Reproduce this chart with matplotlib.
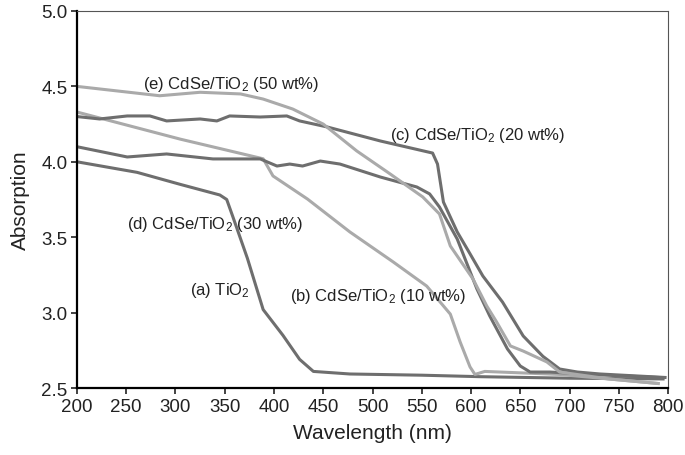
import matplotlib
matplotlib.use("Agg")
import matplotlib.pyplot as plt

plt.rcParams['font.family'] = ['Liberation Sans', 'DejaVu Sans']
plt.rcParams['mathtext.fontset'] = 'custom'
plt.rcParams['mathtext.rm'] = 'Liberation Sans'
plt.rcParams['mathtext.default'] = 'rm'

# (a) bare TiO2
a_wl = [200, 261, 305, 345, 352, 358, 373, 389, 409, 426, 440, 477, 550, 610, 700, 795]
a_abs = [4.00, 3.93, 3.85, 3.78, 3.75, 3.64, 3.36, 3.02, 2.85, 2.69, 2.61, 2.593, 2.585, 2.575, 2.565, 2.56]

# (b) CdSe/TiO2 10 wt%
b_wl = [200, 305, 389, 399, 434, 477, 521, 555, 579, 589, 599, 604, 614, 690, 790]
b_abs = [4.33, 4.15, 4.02, 3.906, 3.753, 3.535, 3.336, 3.176, 2.99, 2.805, 2.64, 2.59, 2.61, 2.59, 2.53]

# (c) CdSe/TiO2 20 wt%
c_wl = [200, 223, 251, 274, 291, 325, 342, 355, 386, 413, 426, 454, 508, 561, 566, 572,
        586, 599, 612, 632, 653, 673, 690, 708, 731, 797]
c_abs = [4.30, 4.284, 4.304, 4.304, 4.271, 4.284, 4.271, 4.304, 4.297, 4.304, 4.271, 4.231,
         4.138, 4.058, 3.985, 3.733, 3.535, 3.39, 3.243, 3.07, 2.845, 2.71, 2.626, 2.606, 2.593, 2.57]

# (d) CdSe/TiO2 30 wt%
d_wl = [200, 251, 291, 338, 386, 403, 416, 429, 447, 467, 508, 545, 558, 568, 586, 606,
        619, 637, 650, 660, 680, 720, 790]
d_abs = [4.10, 4.032, 4.052, 4.019, 4.019, 3.972, 3.985, 3.972, 4.005, 3.985, 3.899, 3.833,
         3.787, 3.70, 3.488, 3.157, 2.978, 2.759, 2.646, 2.606, 2.606, 2.59, 2.57]

# (e) CdSe/TiO2 50 wt%
e_wl = [200, 284, 325, 366, 389, 419, 450, 484, 518, 551, 568, 579, 602, 616, 626, 640,
        653, 677, 690, 740, 790]
e_abs = [4.50, 4.438, 4.461, 4.45, 4.416, 4.35, 4.25, 4.072, 3.919, 3.767, 3.654, 3.442,
         3.223, 3.044, 2.938, 2.779, 2.745, 2.673, 2.606, 2.56, 2.53]

dark = '#6e6e6e'
light = '#aaaaaa'

fig = plt.figure(figsize=(6.85, 4.56), dpi=100)
ax = fig.add_axes([0.1124, 0.1469, 0.8628, 0.8268])

ax.plot(a_wl, a_abs, color=dark, lw=2.2, solid_joinstyle='round')
ax.plot(b_wl, b_abs, color=light, lw=2.2, solid_joinstyle='round')
ax.plot(c_wl, c_abs, color=dark, lw=2.2, solid_joinstyle='round')
ax.plot(d_wl, d_abs, color=dark, lw=2.2, solid_joinstyle='round')
ax.plot(e_wl, e_abs, color=light, lw=2.2, solid_joinstyle='round')

lab_kw = dict(fontsize=12, color='#222222', va='center', ha='left')
ax.text(267, 4.52, '(e) CdSe/TiO$_2$ (50 wt%)', **lab_kw)
ax.text(518, 4.18, '(c) CdSe/TiO$_2$ (20 wt%)', **lab_kw)
ax.text(251, 3.59, '(d) CdSe/TiO$_2$ (30 wt%)', **lab_kw)
ax.text(315, 3.155, '(a) TiO$_2$', **lab_kw)
ax.text(416, 3.115, '(b) CdSe/TiO$_2$ (10 wt%)', **lab_kw)

ax.set_xlim(200, 800)
ax.set_ylim(2.5, 5.0)
ax.set_xticks(range(200, 801, 50))
ax.set_yticks([2.5, 3.0, 3.5, 4.0, 4.5, 5.0])
ax.set_yticklabels(['2.5', '3.0', '3.5', '4.0', '4.5', '5.0'])
ax.tick_params(direction='out', length=4, width=1.2, labelsize=13.5, pad=3, colors='#222222')

for side in ['left', 'bottom']:
    ax.spines[side].set_linewidth(1.6)
    ax.spines[side].set_color('black')
for side in ['top', 'right']:
    ax.spines[side].set_linewidth(0.8)
    ax.spines[side].set_color('#555555')

ax.set_xlabel('Wavelength (nm)', fontsize=15, color='#222222', labelpad=6)
ax.set_ylabel('Absorption', fontsize=15, color='#222222', labelpad=8)

fig.savefig('out.png', dpi=100)
